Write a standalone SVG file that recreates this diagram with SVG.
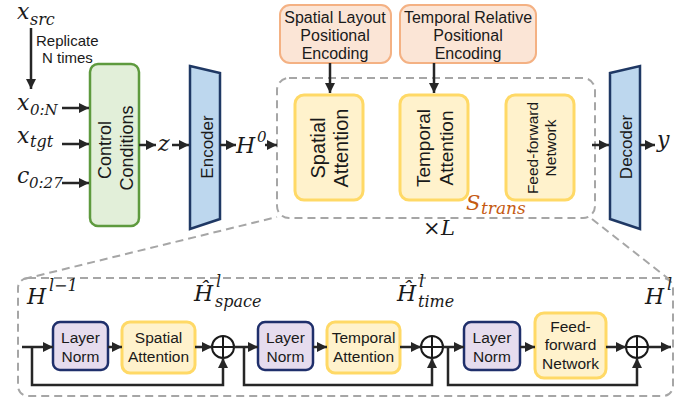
<svg xmlns="http://www.w3.org/2000/svg" width="681" height="398" viewBox="0 0 681 398">
<style>
.s{font-family:"Liberation Sans",Arial,sans-serif;fill:#1a1a1a}
.m{font-family:"DejaVu Serif","Liberation Serif",serif;font-style:italic;fill:#1a1a1a}
.o{font-family:"DejaVu Serif","Liberation Serif",serif;font-style:italic;fill:#C55A11}
.ln{stroke:#262626;stroke-width:2.5;fill:none}
.dash{stroke:#A6A6A6;stroke-width:2;fill:none;stroke-dasharray:8 5}
.yel{fill:#FFF2CC;stroke:#FFD966;stroke-width:3}
.pe{fill:#FBE5D6;stroke:#F4B183;stroke-width:2}
.lnm{fill:#E6DCEE;stroke:#1F2F6B;stroke-width:2.5}
.enc{fill:#BDD7EE;stroke:#1F3864;stroke-width:2.5}
.cir{fill:#fff;stroke:#1a1a1a;stroke-width:2}
</style>
<defs>
<marker id="ah" viewBox="0 0 10 10" refX="10" refY="5" markerWidth="4" markerHeight="4" markerUnits="strokeWidth" orient="auto">
<path d="M0,0 L10,5 L0,10 z" fill="#262626"/>
</marker>
</defs>

<!-- dashed containers and zoom lines -->
<g id="containers">
<rect x="277" y="78" width="318" height="140" rx="12" class="dash"/>
<rect x="18" y="278" width="655" height="118" rx="10" class="dash"/>
<line x1="24" y1="279" x2="277" y2="217" class="dash"/>
<line x1="592" y1="219" x2="670" y2="280" class="dash"/>
</g>

<!-- labels -->
<g id="labels">
<text x="17" y="19" class="m" font-size="22">x</text><text x="30" y="25" class="m" font-size="16">src</text>
<text x="36" y="46" class="s" font-size="15">Replicate</text>
<text x="42" y="63" class="s" font-size="15">N times</text>
<text x="17" y="110" class="m" font-size="22">x</text><text x="30" y="115" class="m" font-size="15">0:N</text>
<text x="17" y="143" class="m" font-size="22">x</text><text x="30" y="147" class="m" font-size="16">tgt</text>
<text x="17" y="183" class="m" font-size="22">c</text><text x="29" y="188" class="m" font-size="15">0:27</text>
<text x="158" y="151" class="m" font-size="22">z</text>
<text x="236" y="153" class="m" font-size="22">H</text><text x="257" y="142" class="m" font-size="15">0</text>
<text x="657" y="147" class="m" font-size="22">y</text>
<text x="423" y="235" class="m" font-size="21" font-style="normal">×</text><text x="441" y="235" class="m" font-size="21">L</text>
<text x="95" y="223" class="o" font-size="21">Ctrl</text>
<text x="193" y="212" class="o" font-size="20">S</text><text x="208" y="219" class="o" font-size="14">E</text>
<text x="611" y="212" class="o" font-size="20">S</text><text x="626" y="219" class="o" font-size="14">D</text>
<text x="466" y="210" class="o" font-size="21">S</text><text x="481" y="214" class="o" font-size="17">trans</text>
<text x="27" y="304" class="m" font-size="22">H</text><text x="49" y="291" class="m" font-size="16">l−1</text>
<text x="194" y="301" class="m" font-size="22">Ĥ</text><text x="216" y="287" class="m" font-size="16">l</text><text x="215" y="307" class="m" font-size="16">space</text>
<text x="397" y="301" class="m" font-size="22">Ĥ</text><text x="419" y="287" class="m" font-size="16">l</text><text x="418" y="307" class="m" font-size="16">time</text>
<text x="645" y="304" class="m" font-size="22">H</text><text x="667" y="290" class="m" font-size="16">l</text>
</g>

<!-- top nodes -->
<g id="ctrl">
<rect x="90" y="64" width="49" height="162" rx="8" fill="#E2EFD9" stroke="#5E9A3E" stroke-width="2.5"/>
<text class="s" font-size="18" text-anchor="middle" dominant-baseline="central" transform="translate(105,150) rotate(-90)">Control</text>
<text class="s" font-size="18" text-anchor="middle" dominant-baseline="central" transform="translate(127,148) rotate(-90)">Conditions</text>
</g>
<g id="encoder">
<path d="M190,66 L220,73 L220,219 L190,229 Z" class="enc"/>
<text class="s" font-size="17" text-anchor="middle" dominant-baseline="central" transform="translate(207,147) rotate(-90)">Encoder</text>
</g>
<g id="decoder">
<path d="M610,73 L640,66 L640,229 L610,219 Z" class="enc"/>
<text class="s" font-size="17" text-anchor="middle" dominant-baseline="central" transform="translate(626,147) rotate(-90)">Decoder</text>
</g>
<g id="pe-spatial">
<rect x="280" y="5" width="111" height="58" rx="10" class="pe"/>
<text class="s" font-size="16" text-anchor="middle" x="335" y="23">Spatial Layout</text>
<text class="s" font-size="16" text-anchor="middle" x="335" y="41">Positional</text>
<text class="s" font-size="16" text-anchor="middle" x="335" y="59">Encoding</text>
</g>
<g id="pe-temporal">
<rect x="400" y="5" width="136" height="58" rx="10" class="pe"/>
<text class="s" font-size="16" text-anchor="middle" x="468" y="23">Temporal Relative</text>
<text class="s" font-size="16" text-anchor="middle" x="468" y="41">Positional</text>
<text class="s" font-size="16" text-anchor="middle" x="468" y="59">Encoding</text>
</g>
<g id="spatial-attn">
<rect x="295" y="95" width="68" height="105" rx="9" class="yel" stroke-width="3.5"/>
<text class="s" font-size="20" text-anchor="middle" dominant-baseline="central" transform="translate(318,148) rotate(-90)">Spatial</text>
<text class="s" font-size="20" text-anchor="middle" dominant-baseline="central" transform="translate(341,148) rotate(-90)">Attention</text>
</g>
<g id="temporal-attn">
<rect x="400" y="95" width="68" height="105" rx="9" class="yel" stroke-width="3.5"/>
<text class="s" font-size="19" text-anchor="middle" dominant-baseline="central" transform="translate(423,148) rotate(-90)">Temporal</text>
<text class="s" font-size="19" text-anchor="middle" dominant-baseline="central" transform="translate(446,148) rotate(-90)">Attention</text>
</g>
<g id="ffn">
<rect x="506" y="95" width="68" height="105" rx="9" class="yel" stroke-width="3.5"/>
<text class="s" font-size="15.5" text-anchor="middle" dominant-baseline="central" transform="translate(532,148) rotate(-90)">Feed-forward</text>
<text class="s" font-size="15.5" text-anchor="middle" dominant-baseline="central" transform="translate(550,148) rotate(-90)">Network</text>
</g>

<!-- bottom nodes -->
<g id="ln1">
<rect x="53" y="322" width="55" height="48" rx="7" class="lnm"/>
<text class="s" font-size="15.5" text-anchor="middle" x="80.5" y="343">Layer</text>
<text class="s" font-size="15.5" text-anchor="middle" x="80.5" y="362">Norm</text>
</g>
<g id="sa2">
<rect x="122" y="322" width="73" height="51" rx="8" class="yel"/>
<text class="s" font-size="15.5" text-anchor="middle" x="158.5" y="343">Spatial</text>
<text class="s" font-size="15.5" text-anchor="middle" x="158.5" y="362">Attention</text>
</g>
<g id="add1">
<circle cx="223" cy="347" r="11" class="cir"/>
<path d="M212,347 H234 M223,336 V358" stroke="#1a1a1a" stroke-width="2"/>
</g>
<g id="ln2">
<rect x="258" y="322" width="55" height="48" rx="7" class="lnm"/>
<text class="s" font-size="15.5" text-anchor="middle" x="285.5" y="343">Layer</text>
<text class="s" font-size="15.5" text-anchor="middle" x="285.5" y="362">Norm</text>
</g>
<g id="ta2">
<rect x="327" y="322" width="73" height="51" rx="8" class="yel"/>
<text class="s" font-size="15.5" text-anchor="middle" x="363.5" y="343">Temporal</text>
<text class="s" font-size="15.5" text-anchor="middle" x="363.5" y="362">Attention</text>
</g>
<g id="add2">
<circle cx="432" cy="347" r="11" class="cir"/>
<path d="M421,347 H443 M432,336 V358" stroke="#1a1a1a" stroke-width="2"/>
</g>
<g id="ln3">
<rect x="464" y="322" width="56" height="48" rx="7" class="lnm"/>
<text class="s" font-size="15.5" text-anchor="middle" x="492" y="343">Layer</text>
<text class="s" font-size="15.5" text-anchor="middle" x="492" y="362">Norm</text>
</g>
<g id="ffn2">
<rect x="535" y="313" width="71" height="65" rx="9" class="yel"/>
<text class="s" font-size="15.5" text-anchor="middle" x="570.5" y="332">Feed-</text>
<text class="s" font-size="15.5" text-anchor="middle" x="570.5" y="350">forward</text>
<text class="s" font-size="15.5" text-anchor="middle" x="570.5" y="369">Network</text>
</g>
<g id="add3">
<circle cx="637" cy="347" r="11" class="cir"/>
<path d="M626,347 H648 M637,336 V358" stroke="#1a1a1a" stroke-width="2"/>
</g>

<!-- connectors -->
<g id="connectors">
<line x1="31" y1="28" x2="31" y2="89" class="ln" marker-end="url(#ah)"/>
<line x1="62" y1="108" x2="89" y2="108" class="ln" marker-end="url(#ah)"/>
<line x1="62" y1="144" x2="89" y2="144" class="ln" marker-end="url(#ah)"/>
<line x1="62" y1="183" x2="89" y2="183" class="ln" marker-end="url(#ah)"/>
<line x1="139" y1="145" x2="156" y2="145" class="ln" marker-end="url(#ah)"/>
<line x1="172" y1="145" x2="189" y2="145" class="ln" marker-end="url(#ah)"/>
<line x1="220" y1="145" x2="236" y2="145" class="ln" marker-end="url(#ah)"/>
<line x1="265" y1="145" x2="277" y2="145" class="ln" marker-end="url(#ah)"/>
<line x1="592" y1="145" x2="609" y2="145" class="ln" marker-end="url(#ah)"/>
<line x1="640" y1="145" x2="655" y2="145" class="ln" marker-end="url(#ah)"/>
<line x1="330" y1="63" x2="330" y2="93" class="ln" marker-end="url(#ah)"/>
<line x1="434" y1="63" x2="434" y2="93" class="ln" marker-end="url(#ah)"/>

<line x1="22" y1="347" x2="53" y2="347" class="ln" marker-end="url(#ah)"/>
<line x1="108" y1="347" x2="122" y2="347" class="ln" marker-end="url(#ah)"/>
<line x1="195" y1="347" x2="212" y2="347" class="ln" marker-end="url(#ah)"/>
<polyline points="32,347 32,385 223,385 223,358" class="ln" marker-end="url(#ah)"/>
<line x1="234" y1="347" x2="258" y2="347" class="ln" marker-end="url(#ah)"/>
<line x1="313" y1="347" x2="327" y2="347" class="ln" marker-end="url(#ah)"/>
<line x1="400" y1="347" x2="421" y2="347" class="ln" marker-end="url(#ah)"/>
<polyline points="244,347 244,385 432,385 432,358" class="ln" marker-end="url(#ah)"/>
<line x1="443" y1="347" x2="464" y2="347" class="ln" marker-end="url(#ah)"/>
<line x1="520" y1="347" x2="535" y2="347" class="ln" marker-end="url(#ah)"/>
<line x1="606" y1="347" x2="626" y2="347" class="ln" marker-end="url(#ah)"/>
<polyline points="448,347 448,385 637,385 637,358" class="ln" marker-end="url(#ah)"/>
<line x1="648" y1="347" x2="671" y2="347" class="ln" marker-end="url(#ah)"/>
</g>
</svg>
